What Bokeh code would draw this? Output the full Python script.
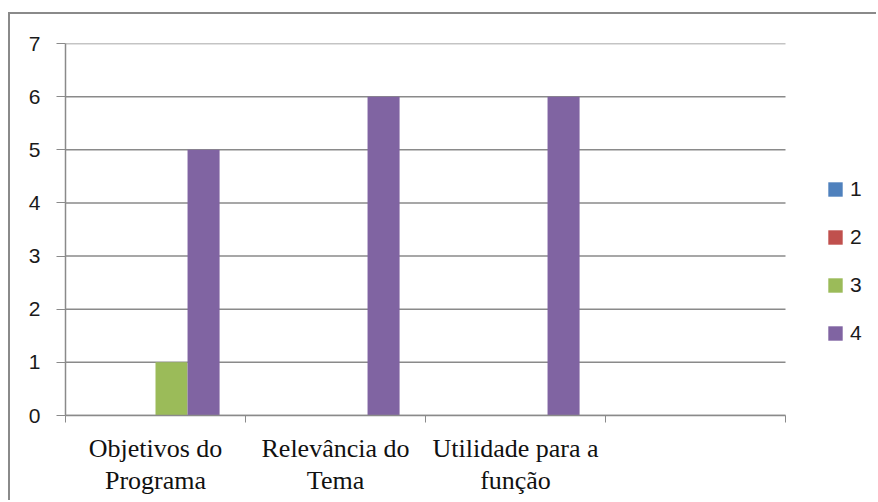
from bokeh.plotting import figure
from bokeh.models import Range1d, FixedTicker, Legend, LegendItem, ColumnDataSource
from bokeh.embed import file_html
from bokeh.resources import INLINE

categories = ["Objetivos do\nPrograma", "Relevância do\nTema", "Utilidade para a\nfunção", ""]
series_names = ["1", "2", "3", "4"]
s1 = [0, 0, 0, 0]
s2 = [0, 0, 0, 0]
s3 = [1, 0, 0, 0]
s4 = [5, 6, 6, 0]
colors = ["#4F81BD", "#C0504D", "#9BBB59", "#8064A2"]
y_ticks = [0, 1, 2, 3, 4, 5, 6, 7]

series_values = [s1, s2, s3, s4]
n_cat = len(categories)

W, H = 868, 488
ML, MT, MB = 55, 29, 87
frame_w = W - ML
cat_px = 720
x_end = n_cat * frame_w / cat_px

p = figure(width=W, height=H, output_backend="svg", toolbar_location=None,
           x_range=Range1d(0, x_end), y_range=Range1d(0, 7),
           min_border_left=ML, min_border_top=MT, min_border_bottom=MB, min_border_right=0)
p.styles = {"border-left": "2px solid #8a8a8a", "border-top": "2px solid #8a8a8a",
            "margin-top": "12px", "margin-left": "8px"}
p.outline_line_color = None
p.background_fill_color = "white"
p.border_fill_color = "white"

# horizontal grid lines limited to the category area
p.segment(x0=[0] * len(y_ticks), x1=[n_cat] * len(y_ticks), y0=y_ticks, y1=y_ticks,
          line_color="#8a8a8a", line_width=1.5)

bar_w = 0.178
renderers = []
for i, (name, vals) in enumerate(zip(series_names, series_values)):
    xs = [j + 0.5 + (i - 1.5) * bar_w for j in range(n_cat)]
    src = ColumnDataSource(dict(x=xs, top=vals))
    r = p.vbar(x="x", top="top", bottom=0, width=bar_w, source=src,
               fill_color=colors[i], line_color=None)
    renderers.append(r)

# x axis
xa = p.xaxis[0]
xa.bounds = (0, n_cat)
xa.ticker = FixedTicker(ticks=[j + 0.5 for j in range(n_cat)],
                        minor_ticks=list(range(n_cat + 1)))
xa.major_label_overrides = {j + 0.5: c for j, c in enumerate(categories)}
xa.major_tick_out = 0
xa.major_tick_in = 0
xa.minor_tick_out = 7
xa.minor_tick_in = 0
xa.minor_tick_line_color = "#8a8a8a"
xa.axis_line_color = "#8a8a8a"
xa.axis_line_width = 1.5
xa.major_label_text_font = "Liberation Serif"
xa.major_label_text_font_size = "26px"
xa.major_label_text_line_height = 1.11
xa.major_label_text_color = "#111111"
xa.major_label_standoff = 11

# y axis
ya = p.yaxis[0]
ya.ticker = FixedTicker(ticks=y_ticks)
ya.major_tick_out = 9
ya.major_tick_in = 0
ya.minor_tick_out = 0
ya.minor_tick_in = 0
ya.major_tick_line_color = "#8a8a8a"
ya.axis_line_color = "#8a8a8a"
ya.axis_line_width = 1.5
ya.major_label_text_font = "Liberation Sans"
ya.major_label_text_font_size = "21px"
ya.major_label_text_color = "#1a1a1a"
ya.major_label_standoff = 16

p.xgrid.grid_line_color = None
p.ygrid.grid_line_color = None

legend = Legend(items=[LegendItem(label=n, renderers=[r]) for n, r in zip(series_names, renderers)],
                location=(761, 70))
legend.border_line_color = None
legend.background_fill_alpha = 0
legend.padding = 0
legend.margin = 0
legend.glyph_width = 18
legend.glyph_height = 18
legend.label_standoff = 6
legend.spacing = 24
legend.label_text_font = "Liberation Sans"
legend.label_text_font_size = "21px"
legend.label_text_color = "#1a1a1a"
p.add_layout(legend)

open("out.html", "w").write(file_html(p, INLINE))
